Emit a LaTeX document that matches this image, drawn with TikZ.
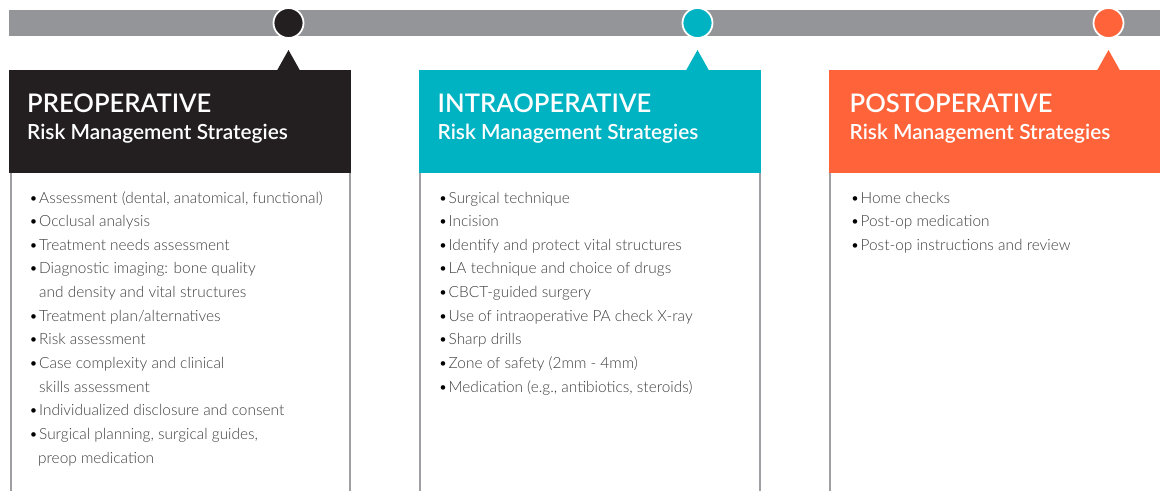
\documentclass[tikz,border=0pt]{standalone}
\usepackage{fontspec}
\setmainfont{Lato}
\newfontfamily\bodyfont{Lato Light}
\newfontfamily\titlefont{Lato Semibold}
\newfontfamily\subfont{Lato Semibold}
\definecolor{bargray}{HTML}{939598}
\definecolor{edgegray}{HTML}{9D9FA2}
\definecolor{predark}{HTML}{231F20}
\definecolor{intrateal}{HTML}{00B3C3}
\definecolor{postorange}{HTML}{FF633A}
\definecolor{bodytext}{HTML}{3E3E40}
\newcommand\bitem[1]{\makebox[10pt][l]{\textcolor{black}{\textbullet}}#1}
\newcommand\bcont[1]{\hspace*{10pt}#1}
\newenvironment{striplist}{\begin{tabular}[t]{@{}l@{}}}{\end{tabular}}
\begin{document}
\begin{tikzpicture}[x=1pt,y=-1pt,
  headbox/.style={rectangle, inner sep=0pt, minimum height=103pt, anchor=north west},
  dot/.style={circle, draw=white, line width=1.8pt, inner sep=0pt, minimum size=30pt},
  phasetitle/.style={anchor=base west, inner sep=0pt, text=white, font=\titlefont\fontsize{25.6}{30}\selectfont},
  phasesub/.style={anchor=base west, inner sep=0pt, text=white, font=\subfont\fontsize{20.8}{24}\selectfont},
  listtext/.style={anchor=base west, inner sep=0pt, text=bodytext, font=\bodyfont\fontsize{15.4}{23.65}\selectfont},
  sideline/.style={draw=edgegray, line width=2pt}]
\useasboundingbox (0,0) rectangle (1160,491);

% timeline bar
\fill[bargray] (9,10) rectangle (1160,36);

% header blocks
\node[headbox, fill=predark, minimum width=342pt] (prehead) at (9,70) {};
\node[headbox, fill=intrateal, minimum width=342pt] (intrahead) at (419,70) {};
\node[headbox, fill=postorange, minimum width=340pt] (posthead) at (829,70) {};

% pointers from headers up to the timeline
\fill[predark] (277,70.5) -- (288.5,50) -- (300,70.5) -- cycle;
\fill[intrateal] (686,70.5) -- (697.5,50) -- (709,70.5) -- cycle;
\fill[postorange] (1097,70.5) -- (1108.5,50) -- (1120,70.5) -- cycle;

% timeline markers
\node[dot, fill=predark] (predot) at (288.5,23) {};
\node[dot, fill=intrateal] (intradot) at (697.5,23) {};
\node[dot, fill=postorange] (postdot) at (1108.5,23) {};

% column side rules
\draw[sideline] (11,173) -- (11,491);
\draw[sideline] (350,173) -- (350,491);
\draw[sideline] (420,173) -- (420,491);
\draw[sideline] (760,173) -- (760,491);
\draw[sideline] (830,173) -- (830,491);

% header texts
\node[phasetitle] (pretitle) at (27,112.5) {PREOPERATIVE};
\node[phasesub] (presub) at (27,139) {Risk Management Strategies};
\node[phasetitle] (intratitle) at (437.5,112.5) {INTRAOPERATIVE};
\node[phasesub] (intrasub) at (437.5,139) {Risk Management Strategies};
\node[phasetitle] (posttitle) at (849.5,112.5) {POSTOPERATIVE};
\node[phasesub] (postsub) at (849.5,139) {Risk Management Strategies};

% strategy lists
\node[listtext] (prelist) at (29,203) {\begin{striplist}
\bitem{Assessment (dental, anatomical, functional)}\\
\bitem{Occlusal analysis}\\
\bitem{Treatment needs assessment}\\
\bitem{Diagnostic imaging: bone quality}\\
\bcont{and density and vital structures}\\
\bitem{Treatment plan/alternatives}\\
\bitem{Risk assessment}\\
\bitem{Case complexity and clinical}\\
\bcont{skills assessment}\\
\bitem{Individualized disclosure and consent}\\
\bitem{Surgical planning, surgical guides,}\\
\hspace*{9pt}preop medication
\end{striplist}};

\node[listtext] (intralist) at (438.5,203) {\begin{striplist}
\bitem{Surgical technique}\\
\bitem{Incision}\\
\bitem{Identify and protect vital structures}\\
\bitem{LA technique and choice of drugs}\\
\bitem{CBCT-guided surgery}\\
\bitem{Use of intraoperative PA check X-ray}\\
\bitem{Sharp drills}\\
\bitem{Zone of safety (2mm - 4mm)}\\
\bitem{Medication (e.g., antibiotics, steroids)}
\end{striplist}};

\node[listtext] (postlist) at (850.5,203) {\begin{striplist}
\bitem{Home checks}\\
\bitem{Post-op medication}\\
\bitem{Post-op instructions and review}
\end{striplist}};
\end{tikzpicture}
\end{document}
